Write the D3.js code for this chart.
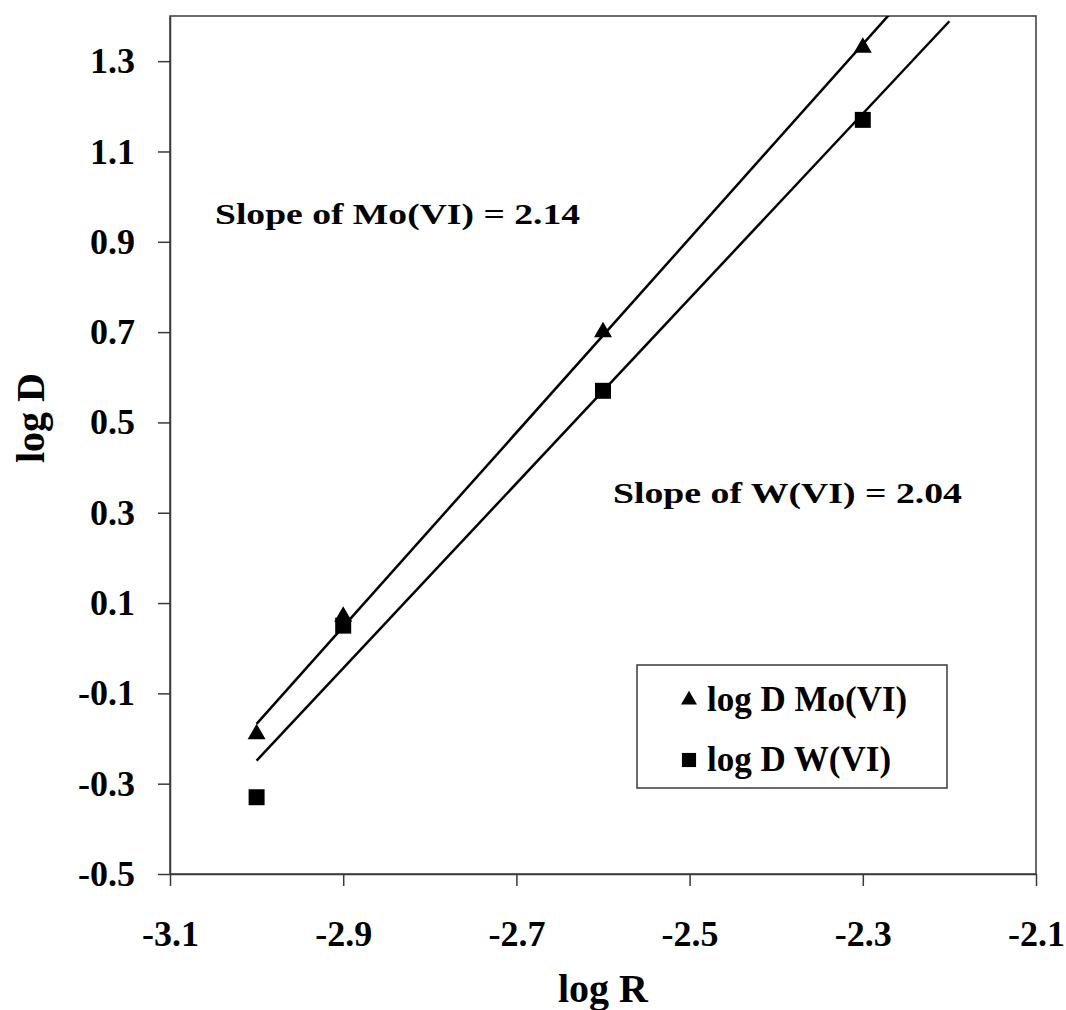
<!DOCTYPE html>
<html>
<head>
<meta charset="utf-8">
<script src="https://cdn.jsdelivr.net/npm/d3@7"></script>
<style>
  body { margin: 0; background: #fff; }
  svg text { font-family: "Liberation Serif", "Times New Roman", serif; font-weight: bold; fill: #000; }
</style>
</head>
<body>
<div class="chartContainer"></div>
<script>
// data
var logR = [-3.0, -2.9, -2.6, -2.3];
var logDMo = [-0.19, 0.07, 0.70, 1.33];
var logDW = [-0.33, 0.05, 0.57, 1.17];
var xTicks = [-3.1, -2.9, -2.7, -2.5, -2.3, -2.1];
var yTicks = [-0.5, -0.3, -0.1, 0.1, 0.3, 0.5, 0.7, 0.9, 1.1, 1.3];
var seriesNames = ['log D Mo(VI)', 'log D W(VI)'];
var slopeLabels = ['Slope of Mo(VI) = 2.14', 'Slope of W(VI) = 2.04'];

var svgWidth = 1066;
var svgHeight = 1010;
var plotLeft = 170, plotRight = 1036, plotTop = 16, plotBottom = 874;
var axisColor = '#3a3a3a';

var svg = d3.select('div.chartContainer').append('svg')
    .attr('width', svgWidth).attr('height', svgHeight);

var x = d3.scaleLinear().domain([-3.1, -2.1]).range([plotLeft, plotRight]);
var y = d3.scaleLinear().domain([-0.5, 1.4]).range([plotBottom, plotTop]);

// hyphen-minus like the original, not the unicode minus
var fmt = function(d) { return d3.format('.1f')(d).replace('\u2212', '-'); };

svg.append('defs').append('clipPath').attr('id', 'plotClip')
    .append('rect')
    .attr('x', plotLeft).attr('y', plotTop)
    .attr('width', plotRight - plotLeft).attr('height', plotBottom - plotTop);

// plot frame
svg.append('rect')
    .attr('x', plotLeft).attr('y', plotTop)
    .attr('width', plotRight - plotLeft).attr('height', plotBottom - plotTop)
    .attr('fill', 'none').attr('stroke', axisColor).attr('stroke-width', 1.5);

var xAxis = svg.append('g')
    .attr('transform', 'translate(0,' + plotBottom + ')')
    .call(d3.axisBottom(x).tickValues(xTicks).tickSize(12).tickSizeOuter(0)
        .tickPadding(34).tickFormat(fmt));

var yAxis = svg.append('g')
    .attr('transform', 'translate(' + plotLeft + ',0)')
    .call(d3.axisLeft(y).tickValues(yTicks).tickSize(12).tickSizeOuter(0)
        .tickPadding(23).tickFormat(fmt));

[xAxis, yAxis].forEach(function(a) {
    a.select('.domain').attr('stroke', axisColor).attr('stroke-width', 1.5);
    a.selectAll('.tick line').attr('stroke', axisColor).attr('stroke-width', 1.5);
    a.selectAll('.tick text').style('font-size', '36px').attr('fill', '#000');
});
xAxis.selectAll('.tick text').attr('dy', '0.71em');

// trend lines (least squares fit of each series)
function fit(xs, ys) {
    var mx = d3.mean(xs), my = d3.mean(ys);
    var sxy = d3.sum(xs, function(v, i) { return (v - mx) * (ys[i] - my); });
    var sxx = d3.sum(xs, function(v) { return (v - mx) * (v - mx); });
    var b = sxy / sxx;
    return function(v) { return my + b * (v - mx); };
}

var trendRange = [-3.0, -2.2];
var line = d3.line()
    .x(function(d) { return x(d[0]); })
    .y(function(d) { return y(d[1]); });

[logDMo, logDW].forEach(function(vals) {
    var f = fit(logR, vals);
    svg.append('path')
        .attr('clip-path', 'url(#plotClip)')
        .attr('d', line(trendRange.map(function(v) { return [v, f(v)]; })))
        .attr('fill', 'none').attr('stroke', '#000').attr('stroke-width', 2.5);
});

// markers
var tri = d3.symbol().type(d3.symbolTriangle).size(140);
var sq = d3.symbol().type(d3.symbolSquare).size(256);

svg.selectAll('path.mo')
    .data(logR)
    .enter()
    .append('path')
    .attr('class', 'mo')
    .attr('d', tri)
    .attr('transform', function(d, i) {
        return 'translate(' + x(d) + ',' + y(logDMo[i]) + ')';
    })
    .attr('fill', '#000');

svg.selectAll('path.w')
    .data(logR)
    .enter()
    .append('path')
    .attr('class', 'w')
    .attr('d', sq)
    .attr('transform', function(d, i) {
        return 'translate(' + x(d) + ',' + y(logDW[i]) + ')';
    })
    .attr('fill', '#000');

// slope annotations (squashed vertically, as in the original figure)
svg.append('text')
    .attr('transform', 'translate(215,224) scale(1,0.8)')
    .style('font-size', '37px')
    .attr('textLength', 365).attr('lengthAdjust', 'spacingAndGlyphs')
    .text(slopeLabels[0]);

svg.append('text')
    .attr('transform', 'translate(613,503) scale(1,0.8)')
    .style('font-size', '37px')
    .attr('textLength', 349).attr('lengthAdjust', 'spacingAndGlyphs')
    .text(slopeLabels[1]);

// legend
var legend = svg.append('g');
legend.append('rect')
    .attr('x', 637).attr('y', 665)
    .attr('width', 310).attr('height', 123)
    .attr('fill', '#fff').attr('stroke', axisColor).attr('stroke-width', 1.5);

var legendSymbols = [d3.symbol().type(d3.symbolTriangle).size(110), d3.symbol().type(d3.symbolSquare).size(200)];
seriesNames.forEach(function(name, i) {
    var cy = 700 + i * 60;
    legend.append('path')
        .attr('d', legendSymbols[i])
        .attr('transform', 'translate(689,' + cy + ')')
        .attr('fill', '#000');
    legend.append('text')
        .attr('x', 707).attr('y', cy + 11)
        .style('font-size', '35px')
        .text(name);
});

// axis titles
svg.append('text')
    .attr('x', 603).attr('y', 1002)
    .attr('text-anchor', 'middle')
    .style('font-size', '40px')
    .text('log R');

svg.append('text')
    .attr('transform', 'translate(44,418) rotate(-90)')
    .attr('text-anchor', 'middle')
    .style('font-size', '40px')
    .text('log D');
</script>
</body>
</html>
